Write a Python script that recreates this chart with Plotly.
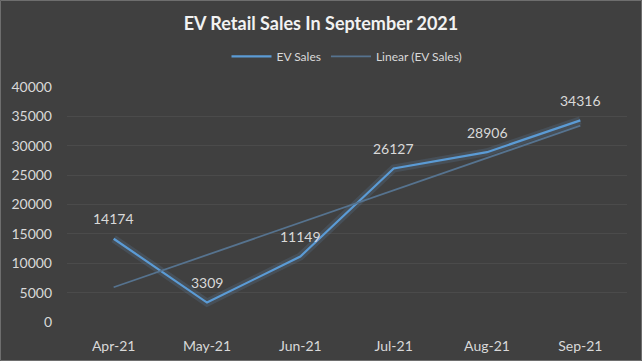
import numpy as np
import plotly.graph_objects as go

months = ["Apr-21", "May-21", "Jun-21", "Jul-21", "Aug-21", "Sep-21"]
ev_sales = [14174, 3309, 11149, 26127, 28906, 34316]
y_ticks = [0, 5000, 10000, 15000, 20000, 25000, 30000, 35000, 40000]

# Linear trendline (least squares), like Excel's "Linear (EV Sales)"
xi = np.arange(len(months))
slope, intercept = np.polyfit(xi, ev_sales, 1)
trend = list(slope * xi + intercept)

FONT = "Lato, Calibri, 'Noto Sans', sans-serif"
BG = "#404040"
TXT = "#d9d9d9"
W, H = 642, 361
ML, MR, MT, MB = 67, 15, 87, 39
PW, PH = W - ML - MR, H - MT - MB

fig = go.Figure()
# soft glow under the main line
fig.add_trace(go.Scatter(x=months, y=ev_sales, mode="lines",
                         line=dict(color="rgba(110,170,225,0.14)", width=8),
                         hoverinfo="skip", showlegend=False))
fig.add_trace(go.Scatter(x=months, y=ev_sales, mode="lines", name="EV Sales",
                         line=dict(color="#5b9bd5", width=2.2)))
fig.add_trace(go.Scatter(x=months, y=trend, mode="lines", name="Linear (EV Sales)",
                         line=dict(color="#56738f", width=1.8)))

for m, v in zip(months, ev_sales):
    fig.add_annotation(x=m, y=v, text=str(v), showarrow=False, yshift=20,
                       font=dict(family=FONT, size=14, color=TXT))

# thin outer frame of the chart area
fig.add_shape(type="rect", xref="paper", yref="paper",
              x0=-(ML - 0.5) / PW, x1=1 + (MR - 0.5) / PW,
              y0=-(MB - 0.5) / PH, y1=1 + (MT - 0.5) / PH,
              line=dict(color="#6e6e6e", width=1), layer="above")

fig.update_layout(
    width=W, height=H,
    paper_bgcolor=BG, plot_bgcolor=BG,
    margin=dict(l=ML, r=MR, t=MT, b=MB, autoexpand=False),
    title=dict(text="<b>EV Retail Sales In September 2021</b>", x=0.5, xanchor="center",
               y=0.935, yanchor="middle", font=dict(family=FONT, size=18, color="#f2f2f2")),
    legend=dict(orientation="h", x=0.5, xanchor="center", y=1.13, yanchor="middle",
                font=dict(family=FONT, size=12, color=TXT), bgcolor="rgba(0,0,0,0)",
                traceorder="normal", itemwidth=40),
    font=dict(family=FONT, color=TXT),
    xaxis=dict(type="category", range=[-0.5, len(months) - 0.5], showgrid=False,
               zeroline=False, showline=False, ticks="", automargin=False,
               tickfont=dict(family=FONT, size=14, color=TXT), ticklabelstandoff=14),
    yaxis=dict(range=[0, 40000], tickvals=y_ticks, tickformat="d", showgrid=True,
               gridcolor="#4b4b4b", gridwidth=1, zeroline=False, showline=False, ticks="",
               automargin=False,
               tickfont=dict(family=FONT, size=14, color=TXT), ticklabelstandoff=14),
)

fig.write_html("out.html", config={"displayModeBar": False},
               post_script="document.body.style.margin='0';document.body.style.background='#404040';")
